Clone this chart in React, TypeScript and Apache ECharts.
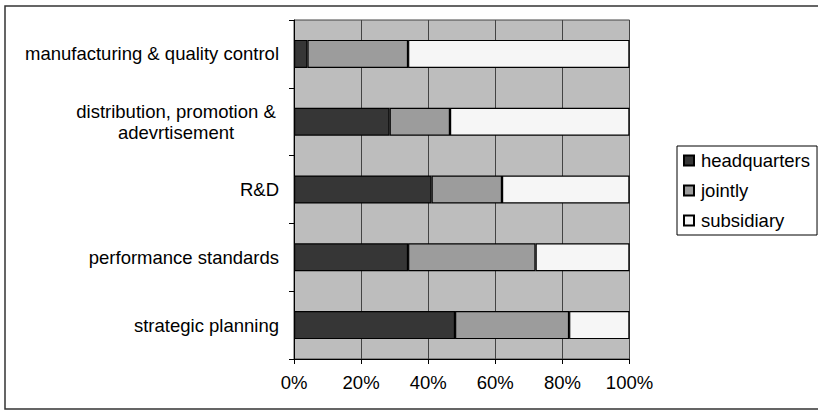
import React, { useEffect, useRef } from "react";
import * as echarts from "echarts";

const categories = [
  "strategic planning",
  "performance standards",
  "R&D",
  "distribution, promotion &\nadevrtisement",
  "manufacturing & quality control",
];
const seriesNames = ["headquarters", "jointly", "subsidiary"];
const headquarters = [48, 34, 41, 28.5, 4];
const jointly = [34, 38, 21, 18, 30];
const subsidiary = [18, 28, 38, 53.5, 66];
const xTicks = [0, 20, 40, 60, 80, 100];

const FONT = "'Liberation Sans', Arial, sans-serif";
const FS = 18.5;

export default function App() {
  const ref = useRef<HTMLDivElement>(null);
  useEffect(() => {
    if (!ref.current) return;
    const chart = echarts.init(ref.current, undefined, { renderer: "svg" });
    const colors = ["#363636", "#9c9c9c", "#f6f6f6"];
    const values = [headquarters, jointly, subsidiary];
    chart.setOption({
      animation: false,
      backgroundColor: "#ffffff",
      textStyle: { fontFamily: FONT },
      graphic: [
        {
          type: "rect",
          shape: { x: 5, y: 6, width: 830, height: 403 },
          style: { fill: "none", stroke: "#333", lineWidth: 1.5 },
          silent: true,
          z: -1,
        },
      ],
      grid: {
        left: 294,
        right: 188.5,
        top: 20,
        bottom: 52,
        show: true,
        backgroundColor: "#bdbdbd",
        borderColor: "#444",
        borderWidth: 1,
      },
      legend: {
        orient: "vertical",
        left: 677,
        top: 146,
        width: 137,
        padding: [5, 7, 5, 6],
        itemGap: 11,
        itemWidth: 10,
        itemHeight: 10,
        icon: "rect",
        borderColor: "#000",
        borderWidth: 1,
        data: seriesNames,
        textStyle: {
          fontFamily: FONT,
          fontSize: FS,
          color: "#000",
          padding: [0, 0, 0, 2],
        },
      },
      xAxis: {
        type: "value",
        min: xTicks[0],
        max: xTicks[xTicks.length - 1],
        interval: 20,
        axisLine: { show: true, lineStyle: { color: "#000", width: 1 } },
        axisTick: { show: true, length: 5, lineStyle: { color: "#000" } },
        splitLine: { show: true, lineStyle: { color: "#444", width: 1 } },
        axisLabel: {
          formatter: "{value}%",
          color: "#000",
          fontFamily: FONT,
          fontSize: FS,
          margin: 14,
        },
      },
      yAxis: {
        type: "category",
        data: categories,
        axisLine: { show: true, lineStyle: { color: "#000", width: 1 } },
        axisTick: { show: true, length: 5, lineStyle: { color: "#000" } },
        splitLine: { show: false },
        axisLabel: {
          color: "#000",
          fontFamily: FONT,
          fontSize: FS,
          margin: 15,
          lineHeight: 21,
          formatter: (v: string) =>
            v.indexOf("\n") >= 0
              ? v
                  .split("\n")
                  .map((s) => "{c|" + s + "}")
                  .join("\n")
              : v,
          rich: {
            c: {
              width: 206,
              align: "center",
              fontFamily: FONT,
              fontSize: FS,
              lineHeight: 21,
              color: "#000",
            },
          },
        },
      },
      series: seriesNames.map((name, i) => ({
        name,
        type: "bar",
        stack: "total",
        barWidth: 28,
        data: values[i],
        itemStyle: { color: colors[i], borderColor: "#000", borderWidth: 1.2 },
      })),
    });
    return () => chart.dispose();
  }, []);
  return (
    <div
      ref={ref}
      style={{ position: "absolute", left: 0, top: 0, width: 818, height: 411 }}
    />
  );
}
